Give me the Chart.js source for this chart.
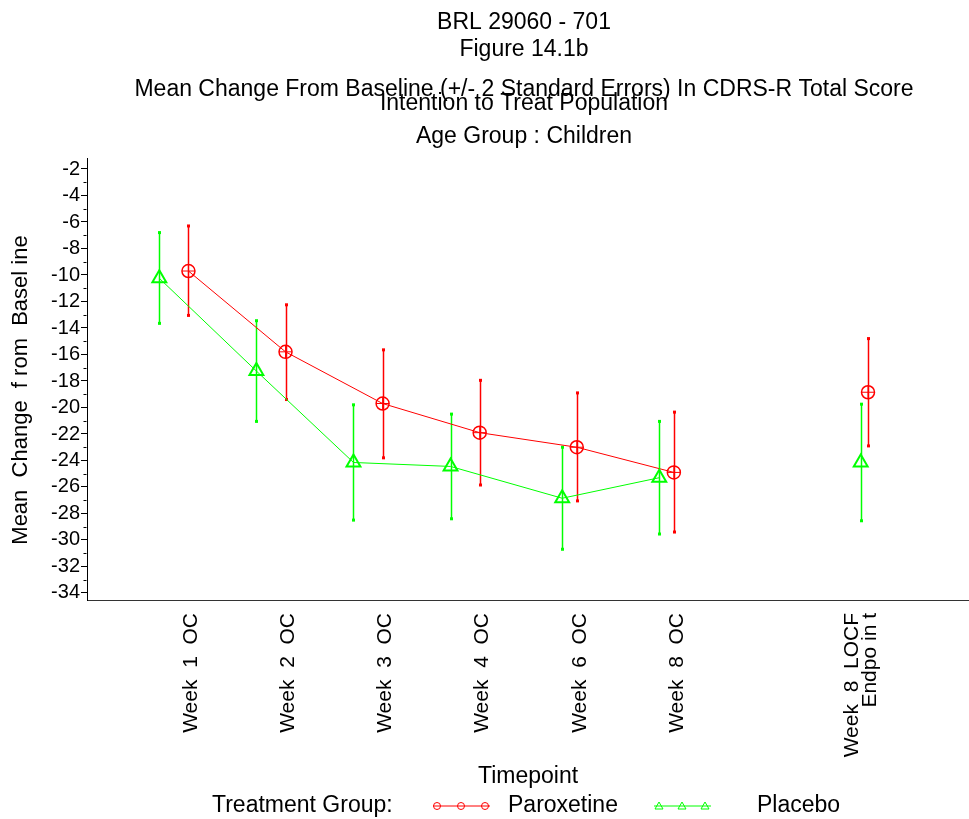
<!DOCTYPE html>
<html>
<head>
<meta charset="utf-8">
<script src="https://cdn.jsdelivr.net/npm/chart.js@4.4.1/dist/chart.umd.min.js"></script>
<style>
  html, body { margin: 0; padding: 0; background: #fff; }
  #wrap { width: 969px; height: 819px; }
</style>
</head>
<body>
<div id="wrap"><canvas id="chart" width="969" height="819"></canvas></div>
<script>
// Timepoints: tick positions on the axis and their labels
const tickPos = [1, 2, 3, 4, 5, 6, 7.81];
const timeLabels = ['Week  1  OC', 'Week  2  OC', 'Week  3  OC', 'Week  4  OC',
                    'Week  6  OC', 'Week  8  OC', ['Week  8  LOCF', 'Endpo in t']];

// Y axis ticks
const yMajor = [-34, -32, -30, -28, -26, -24, -22, -20, -18, -16, -14, -12, -10, -8, -6, -4, -2];
const yMinor = [-33, -31, -29, -27, -25, -23, -21, -19, -17, -15, -13, -11, -9, -7, -5, -3];

// Paroxetine: mean and +/- 2 SE
const paroxX = [1, 2, 3, 4, 5, 6, 8];
const paroxMean = [-9.7, -15.8, -19.7, -21.9, -23.0, -24.9, -18.85];
const paroxLow = [-13.05, -19.4, -23.8, -25.85, -27.05, -29.4, -22.9];
const paroxHigh = [-6.3, -12.25, -15.65, -17.95, -18.9, -20.35, -14.8];

// Placebo: mean and +/- 2 SE
const placeboX = [0.7, 1.7, 2.7, 3.7, 4.85, 5.85, 7.925];
const placeboMean = [-10.25, -17.25, -24.15, -24.45, -26.85, -25.3, -24.15];
const placeboLow = [-13.65, -21.05, -28.5, -28.4, -30.7, -29.55, -28.55];
const placeboHigh = [-6.8, -13.45, -19.8, -20.5, -23.0, -21.05, -19.75];

const RED = '#ff0000';
const GREEN = '#00ff00';
const FONT = "'Liberation Sans', Arial, sans-serif";

Chart.defaults.font.family = FONT;
Chart.defaults.color = '#000';

function pts(xs, ys) {
    return xs.map((x, i) => ({ x: x, y: ys[i] }));
}

// Error bars, drawn with the chart's own scales
const errorBars = {
    id: 'errorBars',
    beforeDatasetsDraw(chart) {
        const { ctx, scales: { x, y } } = chart;
        const groups = [
            [paroxX, paroxLow, paroxHigh, RED],
            [placeboX, placeboLow, placeboHigh, GREEN]
        ];
        ctx.save();
        groups.forEach(([xs, lo, hi, col]) => {
            ctx.strokeStyle = col;
            ctx.fillStyle = col;
            ctx.lineWidth = 1.5;
            xs.forEach((xv, i) => {
                const px = Math.round(x.getPixelForValue(xv)) + 0.5;
                const y1 = y.getPixelForValue(lo[i]);
                const y2 = y.getPixelForValue(hi[i]);
                ctx.beginPath();
                ctx.moveTo(px, y1);
                ctx.lineTo(px, y2);
                ctx.stroke();
                ctx.fillRect(px - 1.5, y1 - 1.5, 3, 3);
                ctx.fillRect(px - 1.5, y2 - 1.5, 3, 3);
            });
        });
        ctx.restore();
    }
};

// Titles, axis titles, minor ticks and legend
const decorations = {
    id: 'decorations',
    afterDraw(chart) {
        const { ctx, scales: { x, y } } = chart;
        ctx.save();
        ctx.fillStyle = '#000';
        ctx.font = '23px ' + FONT;
        ctx.textAlign = 'center';
        ctx.textBaseline = 'middle';
        ctx.fillText('BRL 29060 - 701', 524, 23);
        ctx.fillText('Figure 14.1b', 524, 50);
        ctx.fillText('Mean Change From Baseline (+/- 2 Standard Errors) In CDRS-R Total Score', 524, 90);
        ctx.fillText('Intention to Treat Population', 524, 104);
        ctx.fillText('Age Group : Children', 524, 137);
        ctx.fillText('Timepoint', 528, 777);

        // y axis title
        ctx.save();
        ctx.font = '22px ' + FONT;
        ctx.translate(21, 390);
        ctx.rotate(-Math.PI / 2);
        ctx.fillText('Mean  Change  f rom  Basel ine', 0, 0);
        ctx.restore();

        // minor y ticks
        ctx.strokeStyle = '#000';
        ctx.lineWidth = 1;
        const ax = Math.round(x.left) - 0.5;
        yMinor.forEach(v => {
            const py = Math.round(y.getPixelForValue(v)) + 0.5;
            ctx.beginPath();
            ctx.moveTo(ax - 3, py);
            ctx.lineTo(ax, py);
            ctx.stroke();
        });

        // legend
        const ly = 806;
        ctx.textAlign = 'left';
        ctx.fillText('Treatment Group:', 212, ly);
        ctx.fillText('Paroxetine', 508, ly);
        ctx.fillText('Placebo', 757, ly);

        ctx.strokeStyle = RED;
        ctx.beginPath();
        ctx.moveTo(433, ly);
        ctx.lineTo(490, ly);
        ctx.stroke();
        [437, 461, 485].forEach(cx => {
            ctx.beginPath();
            ctx.arc(cx, ly, 3.5, 0, Math.PI * 2);
            ctx.stroke();
        });

        ctx.strokeStyle = GREEN;
        ctx.beginPath();
        ctx.moveTo(654, ly);
        ctx.lineTo(711, ly);
        ctx.stroke();
        [659, 682, 705].forEach(cx => {
            ctx.beginPath();
            ctx.moveTo(cx, ly - 4);
            ctx.lineTo(cx + 4, ly + 3);
            ctx.lineTo(cx - 4, ly + 3);
            ctx.closePath();
            ctx.stroke();
        });
        ctx.restore();
    }
};

new Chart(document.getElementById('chart'), {
    type: 'line',
    data: {
        datasets: [
            {
                label: 'Placebo',
                data: pts(placeboX, placeboMean),
                borderColor: GREEN,
                borderWidth: 1,
                pointStyle: 'triangle',
                pointRadius: 8,
                pointBorderWidth: 2,
                pointBorderColor: GREEN,
                pointBackgroundColor: 'rgba(0,0,0,0)',
                segment: { borderColor: c => c.p1DataIndex === 6 ? 'rgba(0,0,0,0)' : GREEN }
            },
            {
                label: 'Paroxetine',
                data: pts(paroxX, paroxMean),
                borderColor: RED,
                borderWidth: 1,
                pointStyle: 'circle',
                pointRadius: 6.5,
                pointBorderWidth: 1.5,
                pointBorderColor: RED,
                pointBackgroundColor: 'rgba(0,0,0,0)',
                segment: { borderColor: c => c.p1DataIndex === 6 ? 'rgba(0,0,0,0)' : RED }
            },
            {
                label: 'Paroxetine cross',
                data: pts(paroxX, paroxMean),
                showLine: false,
                pointStyle: 'cross',
                pointRadius: 6.5,
                pointBorderWidth: 1,
                pointBorderColor: RED
            }
        ]
    },
    options: {
        responsive: false,
        animation: false,
        layout: { autoPadding: false, padding: { top: 158, right: 1, left: 0, bottom: 0 } },
        plugins: {
            legend: { display: false },
            title: { display: false },
            tooltip: { enabled: false }
        },
        scales: {
            x: {
                type: 'linear',
                min: -0.045,
                max: 9.03,
                afterBuildTicks: s => { s.ticks = tickPos.map(v => ({ value: v })); },
                afterFit: s => { s.height = 219; s.paddingLeft = 0; s.paddingRight = 0; },
                grid: { display: false },
                border: { color: '#333', width: 1 },
                ticks: {
                    autoSkip: false,
                    minRotation: 90,
                    maxRotation: 90,
                    padding: 5,
                    labelOffset: 3,
                    color: '#000',
                    font: { size: 21, lineHeight: 0.86 },
                    callback: v => timeLabels[tickPos.indexOf(v)]
                }
            },
            y: {
                min: -34.53,
                max: -1.17,
                afterBuildTicks: s => { s.ticks = yMajor.map(v => ({ value: v })); },
                afterFit: s => { s.width = 87; },
                grid: { display: true, drawOnChartArea: false, drawTicks: true, tickLength: 6, color: '#000' },
                border: { color: '#000', width: 1 },
                ticks: {
                    autoSkip: false,
                    padding: 1,
                    color: '#000',
                    font: { size: 20 },
                    callback: v => String(v)
                }
            }
        }
    },
    plugins: [errorBars, decorations]
});
</script>
</body>
</html>
